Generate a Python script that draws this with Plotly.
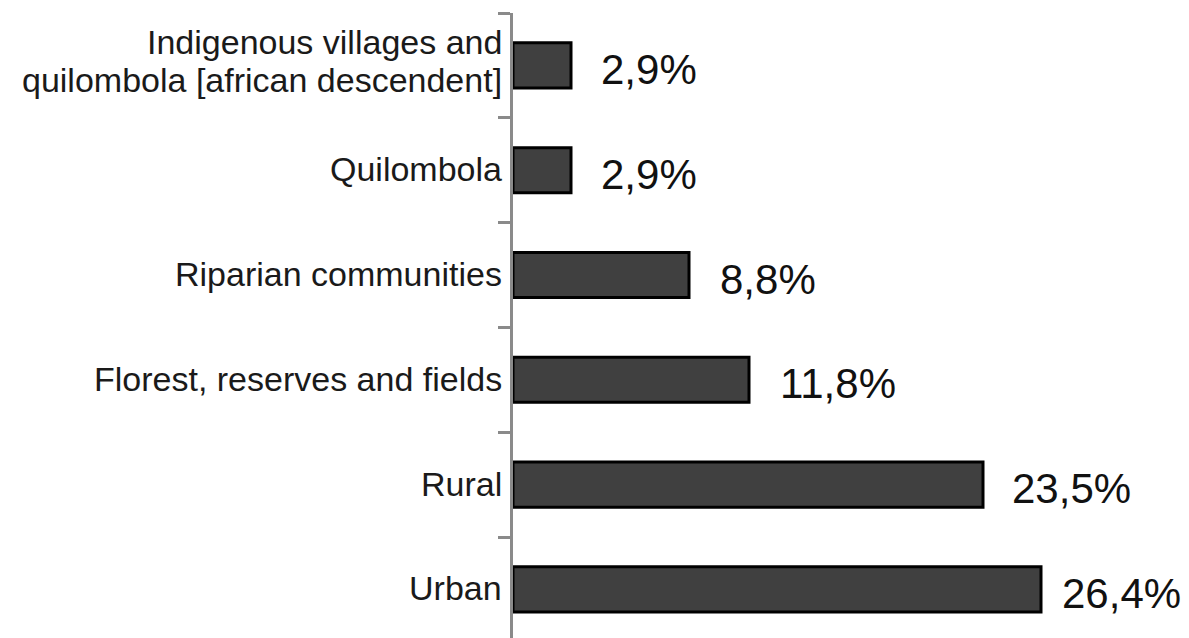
import plotly.graph_objects as go

# Data (bottom to top)
categories = [
    "Urban",
    "Rural",
    "Florest, reserves and fields",
    "Riparian communities",
    "Quilombola",
    "Indigenous villages and\nquilombola [african descendent]",
]
values = [26.4, 23.5, 11.8, 8.8, 2.9, 2.9]
value_labels = ["26,4%", "23,5%", "11,8%", "8,8%", "2,9%", "2,9%"]

# style
label_gap = [19, 27, 29, 29, 28, 28]
FONT = "Liberation Sans, Arial, sans-serif"

fig = go.Figure()
fig.add_trace(go.Bar(
    x=values,
    y=categories,
    orientation="h",
    width=0.43,
    marker=dict(color="#404040", line=dict(color="#000000", width=3)),
    showlegend=False,
    hoverinfo="skip",
))

annotations = []
# category labels (manual for tight line spacing)
for cat in categories:
    lines = cat.split("\n")
    n = len(lines)
    line_h = 38
    for i, ln in enumerate(lines):
        offset = (n - 1) / 2 * line_h - i * line_h + (3 if n > 1 else 0)
        annotations.append(dict(
            x=0, y=cat, xref="x", yref="y", text=ln, showarrow=False,
            xanchor="right", yanchor="middle", xshift=-9, yshift=offset + 1,
            font=dict(family=FONT, size=34, color="#1a1a1a"),
        ))
# value labels
for cat, v, lab, gap in zip(categories, values, value_labels, label_gap):
    annotations.append(dict(
        x=v, y=cat, xref="x", yref="y", text=lab, showarrow=False,
        xanchor="left", yanchor="middle", xshift=gap, yshift=-4,
        font=dict(family=FONT, size=42, color="#111111"),
    ))

fig.update_layout(
    width=1189, height=638,
    margin=dict(l=513, r=0, t=13, b=0),
    paper_bgcolor="white", plot_bgcolor="white",
    bargap=0.57,
    annotations=annotations,
    xaxis=dict(range=[0, 33.8], visible=False, fixedrange=True),
    yaxis=dict(
        type="category",
        categoryorder="array", categoryarray=categories,
        range=[5.5 - 625 / 104.8, 5.5],
        showticklabels=False,
        tickson="boundaries",
        ticks="outside", ticklen=12, tickwidth=3, tickcolor="#8a8a8a",
        showline=True, linewidth=3, linecolor="#8a8a8a",
        showgrid=False, zeroline=False,
    ),
)

fig.write_html("out.html")
